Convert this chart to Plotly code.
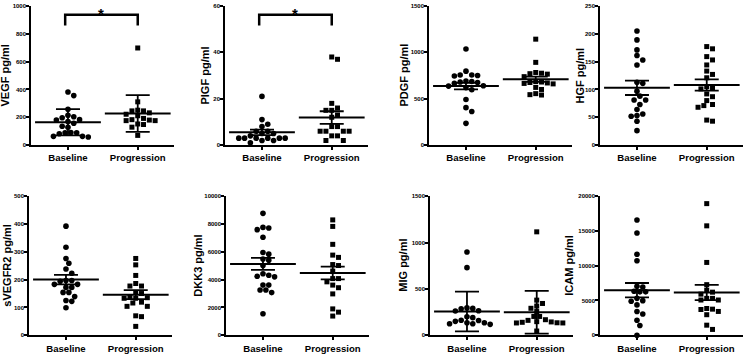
import numpy as np
import plotly.graph_objects as go

groups = ["Baseline", "Progression"]

# ---- values ----
vegf_base = [382, 356, 258, 215, 204, 197, 183, 180, 169, 157, 136, 129, 91, 89, 89, 82, 63, 63, 58]
vegf_prog = [698, 311, 251, 246, 246, 232, 222, 211, 192, 183, 180, 176, 176, 152, 148, 129, 70]
vegf_mean = [164, 227]
vegf_err = [94, 132]

plgf_base = [21, 11, 9, 8, 6, 6, 5, 5, 4, 3, 3, 3, 3, 3, 3, 2, 2, 1]
plgf_prog = [38, 37, 18, 16, 15, 15, 13, 12, 8, 8, 6, 6, 6, 6, 4, 4, 2, 2]
plgf_mean = [5.5, 11.9]
plgf_err = [1.15, 2.7]

pdgf_base = [1036, 797, 755, 755, 750, 745, 690, 685, 680, 675, 667, 640, 636, 620, 597, 492, 404, 362, 235]
pdgf_prog = [1142, 892, 783, 775, 770, 765, 738, 685, 680, 675, 670, 665, 660, 622, 600, 555, 544, 540]
pdgf_mean = [636, 710]
pdgf_err = [35, 29]

hgf_base = [205, 189, 171, 161, 153, 144, 113, 111, 97, 88, 81, 81, 73, 64, 56, 53, 52, 43, 26]
hgf_prog = [177, 173, 159, 153, 144, 133, 127, 121, 105, 102, 101, 92, 87, 80, 73, 71, 68, 45, 43]
hgf_mean = [103, 108]
hgf_err = [13, 10]

svegfr2_base = [392, 316, 276, 259, 238, 223, 197, 197, 194, 183, 183, 172, 172, 154, 154, 139, 125, 122, 99]
svegfr2_prog = [276, 253, 215, 186, 177, 177, 154, 150, 139, 135, 133, 133, 119, 116, 104, 104, 70, 67, 32]
svegfr2_mean = [200, 146]
svegfr2_err = [17, 16]

dkk3_base = [8759, 7752, 7705, 7588, 7049, 5948, 5831, 5480, 5400, 5012, 4426, 4309, 4239, 4200, 3607, 3607, 3255, 3255, 3068, 1546]
dkk3_prog = [8290, 7822, 6534, 5761, 5597, 5082, 5012, 4614, 4075, 4075, 3841, 3607, 3419, 2974, 1897, 1663, 1382]
dkk3_mean = [5129, 4473]
dkk3_err = [430, 460]

mig_base = [897, 729, 295, 290, 285, 265, 262, 200, 190, 160, 135, 125, 118, 125, 135, 150, 162]
mig_prog = [1115, 379, 343, 315, 291, 256, 203, 203, 168, 161, 147, 144, 140, 133, 133, 135, 46]
mig_mean = [256, 249]
mig_err = [214, 230]

icam_base = [16573, 14695, 11643, 10704, 7042, 6948, 6338, 6244, 6244, 5305, 4977, 4900, 4366, 3427, 3052, 2160, 1408, 0]
icam_prog = [18920, 15728, 10469, 7277, 6479, 6197, 5915, 5305, 5305, 5070, 5070, 3850, 3756, 3709, 3427, 2958, 1455, 845]
icam_mean = [6479, 6150]
icam_err = [1033, 1100]

titles = ["VEGF pg/ml", "PIGF pg/ml", "PDGF pg/ml", "HGF pg/ml",
          "sVEGFR2 pg/ml", "DKK3 pg/ml", "MIG pg/ml", "ICAM pg/ml"]
y_max = [1000, 60, 1500, 250, 500, 10000, 1500, 20000]
y_step = [200, 20, 500, 50, 100, 2000, 500, 5000]
significant = [True, True, False, False, False, False, False, False]

panels = [
    (vegf_base, vegf_prog, vegf_mean, vegf_err),
    (plgf_base, plgf_prog, plgf_mean, plgf_err),
    (pdgf_base, pdgf_prog, pdgf_mean, pdgf_err),
    (hgf_base, hgf_prog, hgf_mean, hgf_err),
    (svegfr2_base, svegfr2_prog, svegfr2_mean, svegfr2_err),
    (dkk3_base, dkk3_prog, dkk3_mean, dkk3_err),
    (mig_base, mig_prog, mig_mean, mig_err),
    (icam_base, icam_prog, icam_mean, icam_err),
]

# ---- layout (pixels) ----
W, H = 746, 354
PW = 143            # plot width px
PH = 142            # plot height px
XR = [-0.53, 1.52]
PX_UNIT = PW / (XR[1] - XR[0])
left_px = [31, 225, 429, 600, 29, 226, 430, 600]
top_px = [3, 3, 3, 3, 197, 197, 197, 197]
title_x_px = [5, 205, 404, 580, 7, 198, 403, 569]

FONT = "Liberation Sans"


def swarm(vals, ymax, d=5.8):
    yp = np.asarray(vals, dtype=float) / ymax * PH
    order = np.argsort(-yp, kind="stable")
    cands = [0.0]
    for k in range(1, 60):
        cands += [k * d / 2, -k * d / 2]
    placed = []
    xs = np.zeros(len(yp))
    for i in order:
        for c in cands:
            if all((c - px) ** 2 + (yp[i] - py) ** 2 >= d * d * 0.92 for px, py in placed):
                xs[i] = c
                placed.append((c, yp[i]))
                break
    return xs / PX_UNIT


fig = go.Figure()
layout = dict(
    width=W, height=H, margin=dict(l=0, r=0, t=0, b=0),
    paper_bgcolor="white", plot_bgcolor="white", showlegend=False,
    font=dict(family=FONT, color="black"),
)
annotations = []
shapes = []

for i, (base, prog, mean, err) in enumerate(panels):
    n = i + 1
    xa = "x" if n == 1 else f"x{n}"
    ya = "y" if n == 1 else f"y{n}"
    ymax = y_max[i]
    for g, (vals, sym, size) in enumerate([(base, "circle", 5.6), (prog, "square", 5.0)]):
        xs = g + swarm(vals, ymax)
        fig.add_trace(go.Scatter(
            x=xs, y=vals, mode="markers", xaxis=xa, yaxis=ya,
            marker=dict(symbol=sym, size=size, color="black", line=dict(width=0)),
            cliponaxis=False, hoverinfo="y"))
    fig.add_trace(go.Scatter(
        x=[0, 1], y=mean, mode="markers", xaxis=xa, yaxis=ya,
        marker=dict(symbol="line-ew", size=47, color="black",
                    line=dict(width=2, color="black")),
        error_y=dict(type="data", array=err, visible=True, thickness=1.8,
                     width=12, color="black"),
        cliponaxis=False, hoverinfo="y"))

    x0 = left_px[i] / W
    x1 = (left_px[i] + PW) / W
    y1 = 1 - top_px[i] / H
    y0 = 1 - (top_px[i] + PH) / H
    xkey = "xaxis" if n == 1 else f"xaxis{n}"
    ykey = "yaxis" if n == 1 else f"yaxis{n}"
    layout[xkey] = dict(
        domain=[x0, x1], anchor=ya, range=XR, tickvals=[0, 1], ticktext=groups,
        showline=True, linecolor="black", linewidth=1.5, showgrid=False,
        zeroline=False, ticks="outside", ticklen=3, tickwidth=1.5,
        tickcolor="black",
        tickfont=dict(family=FONT, size=9.6, weight="bold", color="black"))
    layout[ykey] = dict(
        domain=[y0, y1], anchor=xa, range=[0, ymax], dtick=y_step[i], tick0=0,
        tickformat="d", ticklabelstandoff=-1,
        showline=True, linecolor="black", linewidth=1.5, showgrid=False,
        zeroline=False, ticks="outside", ticklen=3, tickwidth=1.5,
        tickcolor="black",
        tickfont=dict(family=FONT, size=6, weight="bold", color="black"))
    annotations.append(dict(
        text=titles[i], xref="paper", yref="paper",
        x=title_x_px[i] / W, y=(y0 + y1) / 2, xanchor="center", yanchor="middle",
        textangle=-90, showarrow=False,
        font=dict(family=FONT, size=11, weight="bold", color="black")))
    if significant[i]:
        top = ymax * 0.937
        end = ymax * 0.859
        xref = "x" if n == 1 else f"x{n}"
        yref = "y" if n == 1 else f"y{n}"
        shapes.append(dict(
            type="path", xref=xref, yref=yref,
            path=f"M -0.04 {end} L -0.04 {top} L 1 {top} L 1 {end}",
            line=dict(color="black", width=2.5)))
        annotations.append(dict(
            text="*", xref=xref, yref="paper", x=0.48, y=1.0,
            xanchor="center", yanchor="top", showarrow=False,
            font=dict(family=FONT, size=15, weight="bold", color="black")))

layout["annotations"] = annotations
layout["shapes"] = shapes
fig.update_layout(**layout)
fig.write_html(
    "out.html",
    config={"displayModeBar": False},
    post_script="document.body.style.margin='0';document.body.style.padding='0';"
                "document.body.style.overflow='hidden';")
